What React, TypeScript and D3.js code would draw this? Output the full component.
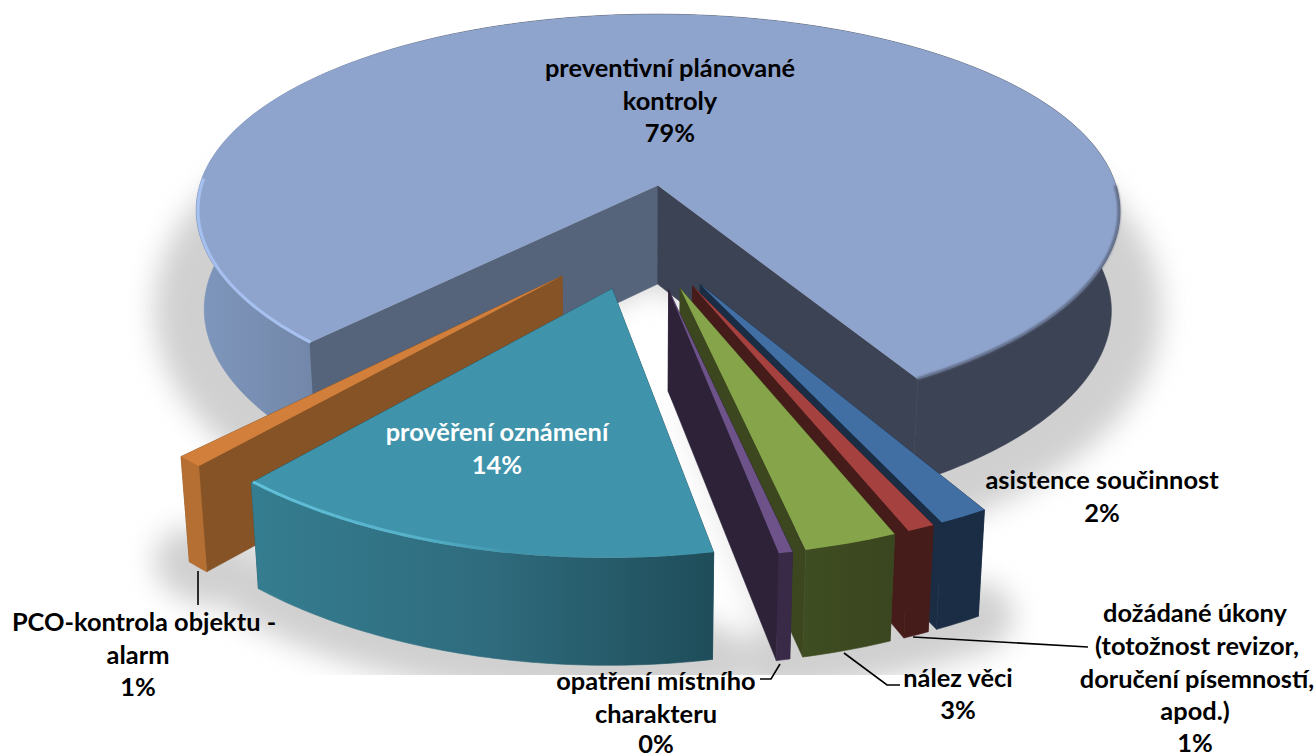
import React from "react";
import * as d3 from "d3";

// ---- data
const categories = [
  "preventivní plánované kontroly",
  "asistence součinnost",
  "dožádané úkony (totožnost revizor, doručení písemností, apod.)",
  "nález věci",
  "opatření místního charakteru",
  "prověření oznámení",
  "PCO-kontrola objektu - alarm",
];
const values = [79.4, 1.45, 0.8, 2.7, 0.4, 14.45, 0.8];

// ---- styles, in category order
const topColors = ["#8fa4cc", "#426fa3", "#a5423f", "#86a44a", "#6d5389", "#3f94ab", "#d27f3b"];
const lowWall = ["#55647b", "#1a2d45", "#451c1a", "#3c4720", "#2d2238", "#1f4d5a", "#855326"];
const highWall = ["#3c4354", "#1a2d45", "#451c1a", "#3c4720", "#2d2238", "#1f4d5a", "#855326"];
const outerStops = [
  ["#7f97bd", "#7388aa", "#3c4354", "#3c4354"],
  ["#1a2d45", "#1a2d45"],
  ["#451c1a", "#451c1a"],
  ["#3f4d22", "#3a461f"],
  ["#392a48", "#392a48"],
  ["#357d90", "#2f6c7e", "#1f4d5a"],
  ["#b56f32", "#b56f32"],
];
const paintOrder = [0, 6, 1, 2, 3, 4, 5];

// label lines: [text, centre x, baseline y]
const labelLines: [string, number, number, string][] = [
  ["preventivní plánované", 670, 77, "#000"],
  ["kontroly", 670, 110, "#000"],
  ["79%", 670, 142, "#000"],
  ["prověření oznámení", 497, 441, "#fff"],
  ["14%", 497, 474, "#fff"],
  ["asistence součinnost", 1102, 489, "#000"],
  ["2%", 1102, 522, "#000"],
  ["PCO-kontrola objektu -", 144, 631, "#000"],
  ["alarm", 138, 664, "#000"],
  ["1%", 138, 696, "#000"],
  ["opatření místního", 656, 690, "#000"],
  ["charakteru", 656, 723, "#000"],
  ["0%", 656, 753, "#000"],
  ["nález věci", 958, 687, "#000"],
  ["3%", 958, 719, "#000"],
  ["dožádané úkony", 1195, 622, "#000"],
  ["(totožnost revizor,", 1197, 655, "#000"],
  ["doručení písemností,", 1197, 688, "#000"],
  ["apod.)", 1195, 720, "#000"],
  ["1%", 1195, 752, "#000"],
];
const leaders: [number, number][][] = [
  [[198, 571], [198, 605]],
  [[780, 664], [771, 679], [760, 679]],
  [[844, 653], [887, 685], [900, 685]],
  [[913, 637], [1088, 647]],
];

// ---- projection
const CX = 644, CY = 236, SX = 473, SY = 211, PERSP_X = 0.13, PERSP_Y = 0.15;
const EXPLODE = 0.25, DEPTH = 100, DEPTH_GROW = 0.06, TAPER = 0.982;
type P = [number, number];
type Disk = { X: number; Y: number };
const proj = ({ X, Y }: Disk): P => [
  CX + (X * SX) / (1 - Y * PERSP_X),
  CY + (Y * SY) / (1 - Y * PERSP_Y),
];
const lower = ({ X, Y }: Disk): P => {
  const [x, y] = proj({ X, Y });
  return [CX + (x - CX) * TAPER, y + DEPTH * (1 + DEPTH_GROW * Y)];
};
const line = d3.line<P>().x((p) => p[0]).y((p) => p[1]);
const pie = d3
  .pie<number>()
  .sort(null)
  .startAngle((-136 * Math.PI) / 180)
  .endAngle((224 * Math.PI) / 180);
const arcs = pie(values);

const sliceGeom = arcs.map((a) => {
  const mid = (a.startAngle + a.endAngle) / 2;
  const apex: Disk = { X: EXPLODE * Math.sin(mid), Y: -EXPLODE * Math.cos(mid) };
  const n = Math.max(3, Math.ceil((a.endAngle - a.startAngle) * 60));
  const rim: Disk[] = d3.range(n + 1).map((i) => {
    const t = a.startAngle + ((a.endAngle - a.startAngle) * i) / n;
    return { X: apex.X + Math.sin(t), Y: apex.Y - Math.cos(t) };
  });
  return { apex, rim };
});
const rimPart = (i: number, from: number, to: number, r = 1): Disk[] => {
  const n = 60;
  const { apex } = sliceGeom[i];
  return d3.range(n + 1).map((k) => {
    const t = ((from + ((to - from) * k) / n) * Math.PI) / 180;
    return { X: apex.X + r * Math.sin(t), Y: apex.Y - r * Math.cos(t) };
  });
};
const deg = (r: number) => (r * 180) / Math.PI;

const SHADOW = "#d0d0d0";

export default function App() {
  return (
    <svg
      width={1316}
      height={755}
      viewBox="0 0 1316 755"
      style={{ position: "absolute", left: 0, top: 0, background: "#fff" }}
    >
      <defs>
        <filter id="soft" filterUnits="userSpaceOnUse" x={-200} y={-200} width={1800} height={1200}>
          <feGaussianBlur stdDeviation={14} />
        </filter>
        <filter id="edge" filterUnits="userSpaceOnUse" x={0} y={0} width={1316} height={755}>
          <feGaussianBlur stdDeviation={0.8} />
        </filter>
        <clipPath id="plot">
          <rect x={0} y={0} width={1316} height={675} />
        </clipPath>
        {sliceGeom.map((g, i) => {
          const xs = g.rim.map((d) => proj(d)[0]);
          const stops = outerStops[i];
          return (
            <linearGradient
              key={i}
              id={`outer${i}`}
              gradientUnits="userSpaceOnUse"
              x1={d3.min(xs)}
              x2={i === 0 ? 1116 : d3.max(xs)}
              y1={0}
              y2={0}
            >
              {stops.map((c, k) => (
                <stop
                  key={k}
                  offset={i === 0 ? [0, 0.12, 0.3, 1][k] : k / (stops.length - 1)}
                  stopColor={c}
                />
              ))}
            </linearGradient>
          );
        })}
        <linearGradient id="rimTeal" gradientUnits="userSpaceOnUse" x1={250} x2={515} y1={0} y2={0}>
          <stop offset={0} stopColor="#62c2da" />
          <stop offset={0.65} stopColor="#55b0c8" />
          <stop offset={1} stopColor="#3f94ab" />
        </linearGradient>
      </defs>

      <g clipPath="url(#plot)">
        <g filter="url(#soft)">
          {paintOrder.map((i) => (
            <g key={i}>
              <path d={line([lower(sliceGeom[i].apex), ...sliceGeom[i].rim.map(lower)]) + "Z"} fill={SHADOW} />
              <path
                d={line(sliceGeom[i].rim.map(lower)) ?? ""}
                fill="none"
                stroke={SHADOW}
                strokeWidth={i === 0 ? 100 : 70}
                strokeLinecap="round"
                strokeLinejoin="round"
              />
            </g>
          ))}
        </g>
      </g>

      {paintOrder.map((i) => {
        const { apex, rim } = sliceGeom[i];
        const first = rim[0];
        const last = rim[rim.length - 1];
        const wall = (a: Disk, b: Disk) => line([proj(a), proj(b), lower(b), lower(a)]) + "Z";
        const ribbon = line([...rim.map(proj), ...rim.slice().reverse().map(lower)]) + "Z";
        const top = line([proj(apex), ...rim.map(proj)]) + "Z";
        return (
          <g key={categories[i]}>
            <path d={wall(apex, first)} fill={lowWall[i]} stroke={lowWall[i]} strokeWidth={0.6} />
            <path d={wall(apex, last)} fill={highWall[i]} stroke={highWall[i]} strokeWidth={0.6} />
            <path d={ribbon} fill={`url(#outer${i})`} stroke={`url(#outer${i})`} strokeWidth={0.6} />
            <path d={top} fill={topColors[i]} />
          </g>
        );
      })}

      {/* bevel highlights along the rims */}
      <path
        d={line(rimPart(0, -136, -88, 0.996).map(proj)) ?? ""}
        fill="none"
        stroke="#a6c1f0"
        strokeWidth={3}
      />
      <path
        d={line(rimPart(0, 90, deg(arcs[0].endAngle), 0.998).map(proj)) ?? ""}
        fill="none"
        stroke="#566079"
        strokeWidth={2.5}
        filter="url(#edge)"
      />
      <path
        d={line(rimPart(5, 190, deg(arcs[5].endAngle), 0.996).map(proj)) ?? ""}
        fill="none"
        stroke="url(#rimTeal)"
        strokeWidth={3}
      />

      {leaders.map((pts, i) => (
        <path key={i} d={line(pts) ?? ""} fill="none" stroke="#000" strokeWidth={1.6} />
      ))}

      <g fontFamily="Lato, sans-serif" fontWeight={700} fontSize={25.4} textAnchor="middle">
        {labelLines.map(([t, x, y, c], i) => (
          <text key={i} x={x} y={y} fill={c}>
            {t}
          </text>
        ))}
      </g>
    </svg>
  );
}
